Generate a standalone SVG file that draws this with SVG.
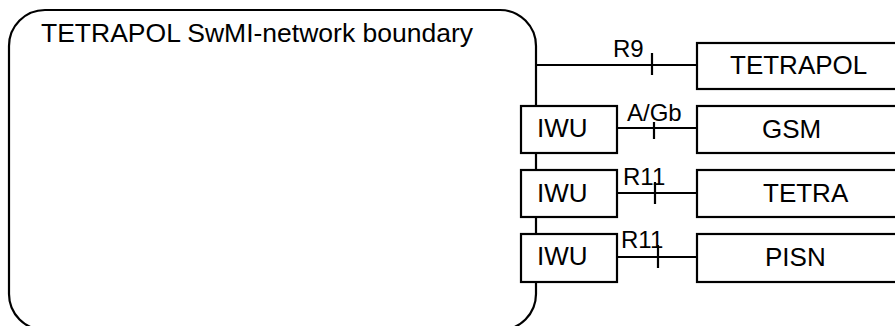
<svg xmlns="http://www.w3.org/2000/svg" width="895" height="326" viewBox="0 0 895 326">
  <style>
    .box { fill: #ffffff; stroke: #000000; stroke-width: 2.2; }
    .edge { fill: none; stroke: #000000; stroke-width: 2.2; }
    .lbl { font-family: "Liberation Sans", Arial, sans-serif; font-size: 26px; fill: #000000; }
    .ref { font-family: "Liberation Sans", Arial, sans-serif; font-size: 24px; fill: #000000; }
  </style>

  <!-- SwMI network boundary -->
  <g id="swmi-boundary">
    <rect x="9" y="10" width="527" height="320" rx="36" ry="36" fill="none" stroke="#000000" stroke-width="2.2"/>
    <text class="lbl" x="41" y="42" style="font-size:26.5px">TETRAPOL SwMI-network boundary</text>
  </g>

  <!-- Interworking units on the boundary -->
  <g id="iwu-gsm">
    <rect class="box" x="521" y="106" width="96" height="47"/>
    <text class="lbl" x="537" y="137">IWU</text>
  </g>
  <g id="iwu-tetra">
    <rect class="box" x="521" y="170" width="96" height="47"/>
    <text class="lbl" x="537" y="202">IWU</text>
  </g>
  <g id="iwu-pisn">
    <rect class="box" x="521" y="234" width="96" height="48"/>
    <text class="lbl" x="537" y="265">IWU</text>
  </g>

  <!-- External networks -->
  <g id="net-tetrapol">
    <rect class="box" x="697" y="43" width="210" height="46"/>
    <text class="lbl" x="730" y="74">TETRAPOL</text>
  </g>
  <g id="net-gsm">
    <rect class="box" x="697" y="106" width="210" height="47"/>
    <text class="lbl" x="762" y="138">GSM</text>
  </g>
  <g id="net-tetra">
    <rect class="box" x="697" y="170" width="210" height="47"/>
    <text class="lbl" x="763" y="202">TETRA</text>
  </g>
  <g id="net-pisn">
    <rect class="box" x="697" y="234" width="210" height="48"/>
    <text class="lbl" x="765" y="266">PISN</text>
  </g>

  <!-- Interfaces with reference-point ticks -->
  <g id="connectors">
    <path class="edge" d="M536 65 H697 M652 53 V75"/>
    <text class="ref" x="613" y="57">R9</text>

    <path class="edge" d="M617 128 H697 M654 122 V139"/>
    <text class="ref" x="627" y="121">A/Gb</text>

    <path class="edge" d="M617 193 H697 M655 182 V204"/>
    <text class="ref" x="623" y="185">R11</text>

    <path class="edge" d="M617 257 H697 M658 245 V268"/>
    <text class="ref" x="621" y="248">R11</text>
  </g>
</svg>
